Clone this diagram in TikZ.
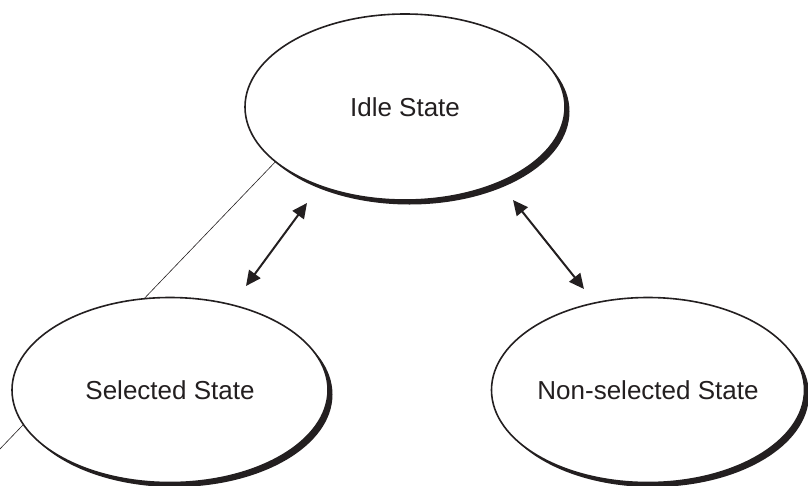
\documentclass[tikz,border=0pt]{standalone}
\usepackage{fontspec}
\setmainfont{Liberation Sans}
\usetikzlibrary{shapes.geometric,shadows,arrows.meta,backgrounds}
\definecolor{ink}{HTML}{231F20}
\begin{document}
\begin{tikzpicture}[x=1pt,y=-1pt,
  state/.style={ellipse, draw=ink, line width=1.6pt, fill=white, inner sep=0pt,
    font=\fontsize{26}{31}\selectfont, text=ink,
    drop shadow={shadow xshift=4.5pt, shadow yshift=-4.5pt, fill=ink, opacity=1}},
  link/.style={draw=ink, line width=2pt,
    {Triangle[length=15pt,width=14pt]}-{Triangle[length=15pt,width=14pt]}},
  thin/.style={draw=ink, line width=0.6pt}]
\useasboundingbox (0,0) rectangle (808,485);

\node[state, minimum width=320pt, minimum height=186pt] (idle) at (405,107) {Idle State};
\node[state, minimum width=316pt, minimum height=185pt] (sel) at (170,390) {Selected State};
\node[state, minimum width=313pt, minimum height=185pt] (non) at (648,390) {Non-selected State};

% thin line running from the idle ellipse behind the selected one
\coordinate (tail) at (-2,451);
\begin{pgfonlayer}{background}
  \draw[thin] (idle.203) -- (tail);
\end{pgfonlayer}

% transitions
\coordinate (l1) at (307,203);
\coordinate (l2) at (246,286);
\coordinate (r1) at (513,200);
\coordinate (r2) at (584,289);
\draw[link] (l1) -- (l2);
\draw[link] (r1) -- (r2);
\end{tikzpicture}
\end{document}
